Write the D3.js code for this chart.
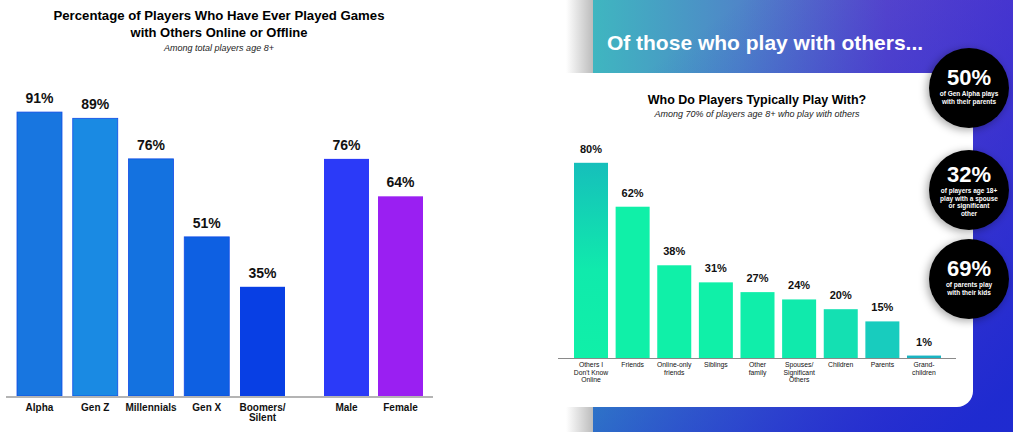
<!DOCTYPE html>
<html>
<head>
<meta charset="utf-8">
<script src="https://cdn.jsdelivr.net/npm/d3@7"></script>
<style>
  body { margin: 0; background: #fff; }
  svg { display: block; }
</style>
</head>
<body>
<div id="chart"></div>
<script>
// Datos
const generaciones = ["Alpha", "Gen Z", "Millennials", "Gen X", "Boomers/\nSilent"];
const valoresGeneracion = [91, 89, 76, 51, 35];
const generos = ["Male", "Female"];
const valoresGenero = [76, 64];

const companeros = ["Others I\nDon't Know\nOnline", "Friends", "Online-only\nfriends", "Siblings",
  "Other\nfamily", "Spouses/\nSignificant\nOthers", "Children", "Parents", "Grand-\nchildren"];
const valoresCompaneros = [80, 62, 38, 31, 27, 24, 20, 15, 1];

const circulosValor = ["50%", "32%", "69%"];
const circulosTexto = [
  ["of Gen Alpha plays", "with their parents"],
  ["of players age 18+", "play with a spouse", "or significant", "other"],
  ["of parents play", "with their kids"]
];

// Colores
const coloresGeneracion = ["#1876e0", "#1a8ae3", "#1472e0", "#0e60e2", "#083fe4"];
const coloresGenero = ["#2b3af8", "#9a1ff2"];
const coloresCompaneros = ["#12e4ac", "#10f0a8", "#10f0a8", "#10f0a8", "#10eeaa", "#10eaac", "#14e0b2", "#18ccbe", "#1ab4c2"];

const ancho = 1013, alto = 432;
const fuente = "'Liberation Sans', Arial, sans-serif";

const svg = d3.select("#chart").append("svg")
  .attr("width", ancho)
  .attr("height", alto);

const defs = svg.append("defs");

// Fondo degradado del panel derecho
const gBase = defs.append("linearGradient").attr("id", "fondoBase")
  .attr("x1", 0).attr("y1", 0).attr("x2", 1).attr("y2", 0);
gBase.append("stop").attr("offset", "0%").attr("stop-color", "#3fb6c0");
gBase.append("stop").attr("offset", "35%").attr("stop-color", "#4f86c8");
gBase.append("stop").attr("offset", "70%").attr("stop-color", "#5e48cc");
gBase.append("stop").attr("offset", "100%").attr("stop-color", "#5a3ad0");

const gAzul = defs.append("linearGradient").attr("id", "fondoAzul")
  .attr("x1", 0.35).attr("y1", 0).attr("x2", 1).attr("y2", 0.9);
gAzul.append("stop").attr("offset", "0%").attr("stop-color", "#1c2ad0").attr("stop-opacity", 0);
gAzul.append("stop").attr("offset", "100%").attr("stop-color", "#1c2ad0").attr("stop-opacity", 0.95);

const gSombra = defs.append("linearGradient").attr("id", "sombra")
  .attr("x1", 0).attr("y1", 0).attr("x2", 1).attr("y2", 0);
gSombra.append("stop").attr("offset", "0%").attr("stop-color", "#fff");
gSombra.append("stop").attr("offset", "100%").attr("stop-color", "#bcbcbc");

const gBarra1 = defs.append("linearGradient").attr("id", "barraTeal")
  .attr("x1", 0).attr("y1", 0).attr("x2", 0).attr("y2", 1);
gBarra1.append("stop").attr("offset", "0%").attr("stop-color", "#16bfbb");
gBarra1.append("stop").attr("offset", "55%").attr("stop-color", "#10eaac");
gBarra1.append("stop").attr("offset", "100%").attr("stop-color", "#10f0a8");

const filtroSombra = defs.append("filter").attr("id", "sombraCirc")
  .attr("x", "-30%").attr("y", "-30%").attr("width", "160%").attr("height", "160%");
filtroSombra.append("feDropShadow").attr("dx", -2).attr("dy", 2)
  .attr("stdDeviation", 4).attr("flood-color", "#000").attr("flood-opacity", 0.35);

svg.append("rect").attr("x", 566).attr("y", 0).attr("width", 27).attr("height", alto)
  .attr("fill", "url(#sombra)");
svg.append("rect").attr("x", 593).attr("y", 0).attr("width", ancho - 593).attr("height", alto)
  .attr("fill", "url(#fondoBase)");
svg.append("rect").attr("x", 593).attr("y", 0).attr("width", ancho - 593).attr("height", alto)
  .attr("fill", "url(#fondoAzul)");

svg.append("text")
  .attr("x", 765).attr("y", 50)
  .attr("text-anchor", "middle")
  .attr("font-family", fuente)
  .attr("font-weight", "bold")
  .attr("font-size", 21)
  .attr("fill", "#fff")
  .text("Of those who play with others...");

// Tarjeta blanca
svg.append("rect")
  .attr("x", 500).attr("y", 73).attr("width", 473).attr("height", 334)
  .attr("rx", 16)
  .attr("fill", "#fff");

// ---------- Gráfico izquierdo ----------
const escalaYIzq = d3.scaleLinear().domain([0, 100]).range([396, 84]);
const escalaGen = d3.scaleBand().domain(generaciones).range([17, 285]).paddingInner(0.193).paddingOuter(0);
const escalaGenero = d3.scaleBand().domain(generos).range([324, 423]).paddingInner(0.167).paddingOuter(0);

const izq = svg.append("g");

izq.append("text").attr("x", 219).attr("y", 20)
  .attr("text-anchor", "middle").attr("font-family", fuente).attr("font-weight", "bold")
  .attr("font-size", 13).attr("fill", "#000")
  .attr("textLength", 331).attr("lengthAdjust", "spacingAndGlyphs")
  .text("Percentage of Players Who Have Ever Played Games");
izq.append("text").attr("x", 219).attr("y", 37)
  .attr("text-anchor", "middle").attr("font-family", fuente).attr("font-weight", "bold")
  .attr("font-size", 13).attr("fill", "#000")
  .text("with Others Online or Offline");
izq.append("text").attr("x", 219).attr("y", 51)
  .attr("text-anchor", "middle").attr("font-family", fuente).attr("font-style", "italic")
  .attr("font-size", 9).attr("fill", "#222")
  .text("Among total players age 8+");

const datosGen = generaciones.map((c, i) => ({ cat: c, valor: valoresGeneracion[i], color: coloresGeneracion[i], escala: escalaGen }));
const datosGenero = generos.map((c, i) => ({ cat: c, valor: valoresGenero[i], color: coloresGenero[i], escala: escalaGenero }));
const datosIzq = datosGen.concat(datosGenero);

izq.selectAll(".barra")
  .data(datosIzq)
  .enter()
  .append("rect")
  .attr("class", "barra")
  .attr("x", d => d.escala(d.cat))
  .attr("y", d => escalaYIzq(d.valor))
  .attr("width", d => d.escala.bandwidth())
  .attr("height", d => escalaYIzq(0) - escalaYIzq(d.valor))
  .attr("fill", d => d.color)
  .attr("stroke", (d, i) => i < 4 ? "#0f4ae6" : "none")
  .attr("stroke-width", 0.8);

izq.selectAll(".etiqueta")
  .data(datosIzq)
  .enter()
  .append("text")
  .attr("class", "etiqueta")
  .attr("x", d => d.escala(d.cat) + d.escala.bandwidth() / 2)
  .attr("y", d => escalaYIzq(d.valor) - 9)
  .attr("text-anchor", "middle")
  .attr("font-family", fuente)
  .attr("font-weight", "bold")
  .attr("font-size", 14)
  .attr("fill", "#111")
  .text(d => d.valor + "%");

izq.append("line")
  .attr("x1", 6).attr("x2", 433)
  .attr("y1", escalaYIzq(0) + 1).attr("y2", escalaYIzq(0) + 1)
  .attr("stroke", "#b4b4b4").attr("stroke-width", 2);

izq.selectAll(".categoria")
  .data(datosIzq)
  .enter()
  .append("text")
  .attr("class", "categoria")
  .attr("x", d => d.escala(d.cat) + d.escala.bandwidth() / 2)
  .attr("y", 411)
  .attr("text-anchor", "middle")
  .attr("font-family", fuente)
  .attr("font-weight", "bold")
  .attr("font-size", 10)
  .attr("fill", "#111")
  .each(function(d) {
    d.cat.split("\n").forEach((linea, k) => {
      d3.select(this).append("tspan")
        .attr("x", d.escala(d.cat) + d.escala.bandwidth() / 2)
        .attr("dy", k === 0 ? 0 : 9.5)
        .text(linea);
    });
  });

// ---------- Gráfico derecho ----------
const escalaYDer = d3.scaleLinear().domain([0, 100]).range([358, 114]);
const escalaComp = d3.scaleBand().domain(companeros).range([574, 941]).paddingInner(0.183).paddingOuter(0);

const der = svg.append("g");

der.append("text").attr("x", 757).attr("y", 104)
  .attr("text-anchor", "middle").attr("font-family", fuente).attr("font-weight", "bold")
  .attr("font-size", 12.5).attr("fill", "#000")
  .text("Who Do Players Typically Play With?");
der.append("text").attr("x", 757).attr("y", 117)
  .attr("text-anchor", "middle").attr("font-family", fuente).attr("font-style", "italic")
  .attr("font-size", 9).attr("fill", "#222")
  .text("Among 70% of players age 8+ who play with others");

der.selectAll(".barra")
  .data(companeros)
  .enter()
  .append("rect")
  .attr("class", "barra")
  .attr("x", d => escalaComp(d))
  .attr("y", (d, i) => escalaYDer(valoresCompaneros[i]))
  .attr("width", escalaComp.bandwidth())
  .attr("height", (d, i) => escalaYDer(0) - escalaYDer(valoresCompaneros[i]))
  .attr("fill", (d, i) => i === 0 ? "url(#barraTeal)" : coloresCompaneros[i]);

der.selectAll(".etiqueta")
  .data(companeros)
  .enter()
  .append("text")
  .attr("class", "etiqueta")
  .attr("x", d => escalaComp(d) + escalaComp.bandwidth() / 2)
  .attr("y", (d, i) => escalaYDer(valoresCompaneros[i]) - 10)
  .attr("text-anchor", "middle")
  .attr("font-family", fuente)
  .attr("font-weight", "bold")
  .attr("font-size", 11)
  .attr("fill", "#111")
  .text((d, i) => valoresCompaneros[i] + "%");

der.append("line")
  .attr("x1", 558).attr("x2", 956)
  .attr("y1", escalaYDer(0) + 0.5).attr("y2", escalaYDer(0) + 0.5)
  .attr("stroke", "#8a8a8a").attr("stroke-width", 1);

der.selectAll(".categoria")
  .data(companeros)
  .enter()
  .append("text")
  .attr("class", "categoria")
  .attr("y", 367)
  .attr("text-anchor", "middle")
  .attr("font-family", fuente)
  .attr("font-size", 6.8)
  .attr("fill", "#111")
  .each(function(d) {
    d.split("\n").forEach((linea, k) => {
      d3.select(this).append("tspan")
        .attr("x", escalaComp(d) + escalaComp.bandwidth() / 2)
        .attr("dy", k === 0 ? 0 : 7.5)
        .text(linea);
    });
  });

// ---------- Círculos ----------
const centrosY = [88, 190, 279];
const circulos = svg.selectAll(".circulo")
  .data(circulosValor)
  .enter()
  .append("g")
  .attr("class", "circulo")
  .attr("transform", (d, i) => `translate(969,${centrosY[i]})`);

circulos.append("circle")
  .attr("r", 40)
  .attr("fill", "#050505")
  .attr("filter", "url(#sombraCirc)");

circulos.append("text")
  .attr("y", (d, i) => i === 1 ? -8 : -3)
  .attr("text-anchor", "middle")
  .attr("font-family", fuente)
  .attr("font-weight", "bold")
  .attr("font-size", 22)
  .attr("fill", "#fff")
  .text(d => d);

circulos.each(function(d, i) {
  const t = d3.select(this).append("text")
    .attr("y", i === 1 ? 3 : 8)
    .attr("text-anchor", "middle")
    .attr("font-family", fuente)
    .attr("font-weight", "bold")
    .attr("font-size", 6.5)
    .attr("fill", "#fff");
  circulosTexto[i].forEach((linea, k) => {
    t.append("tspan").attr("x", 0).attr("dy", k === 0 ? 0 : 7.5).text(linea);
  });
});
</script>
</body>
</html>
